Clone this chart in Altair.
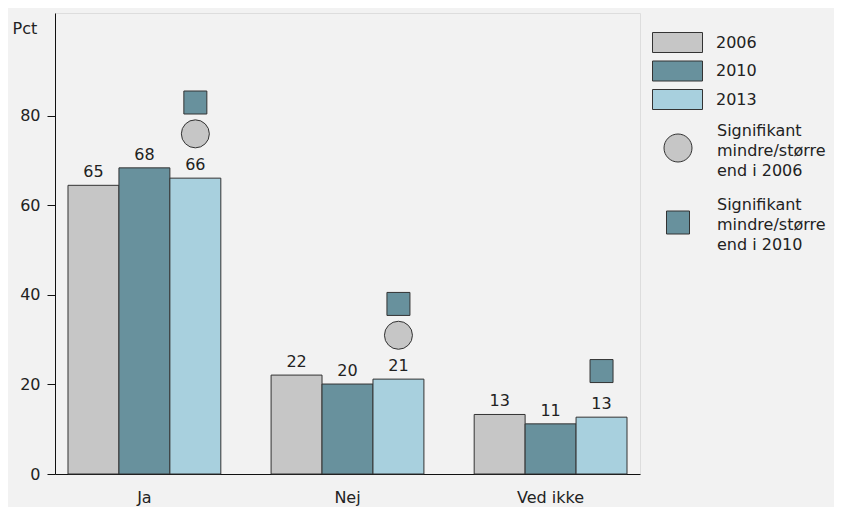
import altair as alt
import pandas as pd

categories = ["Ja", "Nej", "Ved ikke"]
years = ["2006", "2010", "2013"]
values_2006 = [64.5, 22.1, 13.3]
values_2010 = [68.4, 20.1, 11.2]
values_2013 = [66.1, 21.2, 12.7]
labels_2006 = [65, 22, 13]
labels_2010 = [68, 20, 11]
labels_2013 = [66, 21, 13]
year_colors = ["#c6c6c6", "#68919d", "#a8d0de"]

sig_circle = "Signifikant|mindre/større|end i 2006"
sig_square = "Signifikant|mindre/større|end i 2010"
marker_category = ["Ja", "Ja", "Nej", "Nej", "Ved ikke"]
marker_type = [sig_square, sig_circle, sig_square, sig_circle, sig_square]
marker_value = [83, 76, 38, 31, 23]
marker_year = ["2013"] * 5
marker_colors = ["#c6c6c6", "#68919d"]

rows = []
for yr, vals, labs in zip(years, [values_2006, values_2010, values_2013],
                          [labels_2006, labels_2010, labels_2013]):
    for c, v, l in zip(categories, vals, labs):
        rows.append({"kategori": c, "aar": yr, "pct": v, "label": str(l)})
bars_df = pd.DataFrame(rows)

markers_df = pd.DataFrame({
    "kategori": marker_category,
    "aar": marker_year,
    "pct": marker_value,
    "type": marker_type,
})
marker_order = [sig_circle, sig_square]
legend_df = pd.DataFrame({"forklaring": marker_order})

FONT = "DejaVu Sans"

x_enc = alt.X("kategori:N", sort=categories,
              scale=alt.Scale(paddingInner=0.2475, paddingOuter=0.064),
              axis=alt.Axis(title=None, labelAngle=0, ticks=False, domainColor="#111",
                            labelPadding=15, labelFontSize=16, labelColor="#222"))
xo_enc = alt.XOffset("aar:N", sort=years, scale=alt.Scale(paddingInner=0, paddingOuter=0))
y_enc = alt.Y("pct:Q", scale=alt.Scale(domain=[0, 103], nice=False),
              axis=alt.Axis(title="Pct", values=[0, 20, 40, 60, 80], grid=False,
                            domainColor="#111", tickColor="#111", tickSize=8,
                            labelPadding=7, labelFontSize=16, labelColor="#222",
                            titleAngle=0, titleAlign="left", titleBaseline="middle",
                            titleX=-43, titleY=15, titleFontSize=16,
                            titleFontWeight="normal", titleColor="#222"))

bars = alt.Chart(bars_df).mark_bar(stroke="#333", strokeWidth=1).encode(
    x=x_enc, xOffset=xo_enc, y=y_enc,
    color=alt.Color("aar:N", sort=years,
                    scale=alt.Scale(domain=years, range=year_colors),
                    legend=alt.Legend(title=None, orient="none", legendX=612, legendY=19,
                                      symbolType="M-2.5,-1H2.5V1H-2.5Z", symbolSize=400,
                                      symbolStrokeColor="#333", symbolStrokeWidth=1,
                                      labelOffset=28, rowPadding=3.5, labelFontSize=16,
                                      labelColor="#222")),
)

texts = alt.Chart(bars_df).mark_text(baseline="alphabetic", dy=-8, fontSize=16,
                                     color="#222", font=FONT).encode(
    x=alt.X("kategori:N", sort=categories), xOffset=alt.XOffset("aar:N", sort=years),
    y="pct:Q", text="label:N",
)

markers = alt.Chart(markers_df).mark_point(filled=True, opacity=1).encode(
    x=alt.X("kategori:N", sort=categories), xOffset=alt.XOffset("aar:N", sort=years),
    y="pct:Q",
    shape=alt.Shape("type:N", scale=alt.Scale(domain=marker_order, range=["circle", "square"]),
                    legend=None),
    fill=alt.Fill("type:N", scale=alt.Scale(domain=marker_order, range=marker_colors),
                  legend=None),
    size=alt.Size("type:N", scale=alt.Scale(domain=marker_order, range=[784, 529]),
                  legend=None),
    stroke=alt.value("#333"),
    strokeWidth=alt.value(1),
)

# legend-only layer (invisible marks); symbols drawn in pixel units (size 4)
legend_shapes = [
    "M-14,17A14,14 0 1,0 14,17A14,14 0 1,0 -14,17Z",
    "M-11.5,6.5H11.5V29.5H-11.5Z",
]
leg = dict(title=None, orient="none", legendX=615, legendY=110,
           labelExpr="split(datum.label, '|')", symbolSize=4, symbolOpacity=1,
           symbolStrokeWidth=1,
           labelOffset=31, rowPadding=17.5, labelFontSize=16,
           labelColor="#222", labelLimit=300)
legend_layer = alt.Chart(legend_df).mark_point(filled=True, opacity=0).encode(
    shape=alt.Shape("forklaring:N", scale=alt.Scale(domain=marker_order, range=legend_shapes),
                    legend=alt.Legend(**leg)),
    fill=alt.Fill("forklaring:N", scale=alt.Scale(domain=marker_order, range=marker_colors),
                  legend=alt.Legend(**leg)),
    stroke=alt.value("#333"),
    strokeWidth=alt.value(1),
)

chart = alt.layer(bars, texts, markers, legend_layer).resolve_scale(
    shape="independent", fill="independent", size="independent",
).properties(
    width=585, height=461, background="#f2f2f2",
    padding={"left": 4, "top": 5, "right": 8, "bottom": 2},
).configure_view(stroke=None).configure(
    font=FONT,
    style={"guide-label": {"lineHeight": 20}},
)

chart.save("out.html", embed_options={"renderer": "svg", "actions": False})
